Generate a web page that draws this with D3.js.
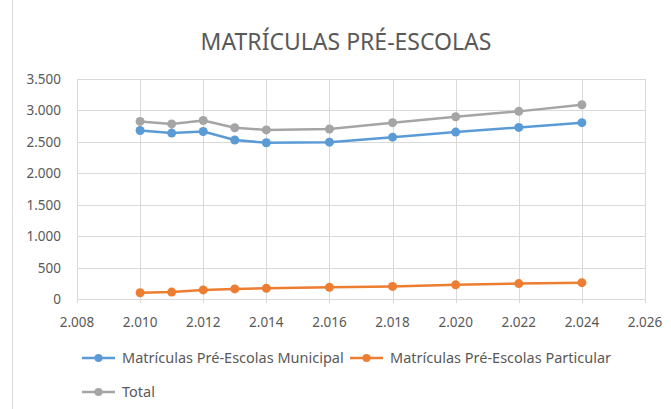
<!DOCTYPE html>
<html>
<head>
<meta charset="utf-8">
<script src="https://cdn.jsdelivr.net/npm/d3@7"></script>
<style>
  body { margin: 0; background: #fff; }
  text { font-family: "Noto Sans", sans-serif; fill: #595959; }
</style>
</head>
<body>
<div id="chart"></div>
<script>
// data
const years = [2010, 2011, 2012, 2013, 2014, 2016, 2018, 2020, 2022, 2024];
const municipal = [2680, 2640, 2665, 2530, 2485, 2495, 2575, 2655, 2730, 2805];
const particular = [100, 110, 145, 160, 170, 185, 200, 225, 245, 260];
const total = [2825, 2785, 2840, 2725, 2690, 2705, 2805, 2900, 2985, 3090];
const seriesNames = ["Matrículas Pré-Escolas Municipal", "Matrículas Pré-Escolas Particular", "Total"];
const seriesColors = ["#5b9bd5", "#ed7d31", "#a5a5a5"];
const xTicks = [2008, 2010, 2012, 2014, 2016, 2018, 2020, 2022, 2024, 2026];
const yTicks = [0, 500, 1000, 1500, 2000, 2500, 3000, 3500];

const width = 671, height = 409;
const margin = { top: 79, right: 26, bottom: 110, left: 77 };

const svg = d3.select("#chart").append("svg")
  .attr("width", width)
  .attr("height", height);

// chart border (only left edge visible in the picture)
svg.append("line")
  .attr("x1", 12.5).attr("x2", 12.5)
  .attr("y1", 0).attr("y2", height)
  .attr("stroke", "#d9d9d9");

const x = d3.scaleLinear().domain([2008, 2026]).range([margin.left, width - margin.right]);
const y = d3.scaleLinear().domain([0, 3500]).range([height - margin.bottom, margin.top]);

// title
svg.append("text")
  .attr("x", 346).attr("y", 50)
  .attr("text-anchor", "middle")
  .style("font-size", "23px")
  .text("MATRÍCULAS PRÉ-ESCOLAS");

// grid
const grid = svg.append("g").attr("stroke", "#d9d9d9").attr("stroke-width", 1);
grid.selectAll(".h").data(yTicks).join("line")
  .attr("x1", x(2008)).attr("x2", x(2026))
  .attr("y1", d => Math.round(y(d)) + 0.5).attr("y2", d => Math.round(y(d)) + 0.5);
grid.selectAll(".v").data(xTicks).join("line")
  .attr("x1", d => Math.round(x(d)) + 0.5).attr("x2", d => Math.round(x(d)) + 0.5)
  .attr("y1", y(3500)).attr("y2", y(0) + 4);

const fmt = d => d3.format(",")(d).replace(/,/g, ".");

// axes labels
svg.append("g").selectAll("text").data(yTicks).join("text")
  .attr("x", x(2008) - 16).attr("y", d => y(d) + 5)
  .attr("text-anchor", "end")
  .style("font-size", "13.5px")
  .text(fmt);

svg.append("g").selectAll("text").data(xTicks).join("text")
  .attr("x", d => x(d)).attr("y", y(0) + 28)
  .attr("text-anchor", "middle")
  .style("font-size", "13.5px")
  .text(fmt);

// series
const allSeries = [municipal, particular, total];
const line = d3.line().x((d, i) => x(years[i])).y(d => y(d));

// draw gray (total) under, then orange, then blue
[2, 1, 0].forEach(s => {
  const g = svg.append("g");
  g.append("path")
    .datum(allSeries[s])
    .attr("d", line)
    .attr("fill", "none")
    .attr("stroke", seriesColors[s])
    .attr("stroke-width", 2.5)
    .attr("stroke-linejoin", "round");
  g.selectAll("circle").data(allSeries[s]).join("circle")
    .attr("cx", (d, i) => x(years[i]))
    .attr("cy", d => y(d))
    .attr("r", 4.5)
    .attr("fill", seriesColors[s]);
});

// legend
const legendPos = [[82, 358], [350, 358], [82, 392]];
legendPos.forEach((p, i) => {
  const g = svg.append("g").attr("transform", `translate(${p[0]},${p[1]})`);
  g.append("line").attr("x1", 0).attr("x2", 33).attr("y1", 0).attr("y2", 0)
    .attr("stroke", seriesColors[i]).attr("stroke-width", 2.5);
  g.append("circle").attr("cx", 16.5).attr("cy", 0).attr("r", 4).attr("fill", seriesColors[i]);
  g.append("text").attr("x", 40).attr("y", 5)
    .style("font-size", "14.5px")
    .text(seriesNames[i]);
});
</script>
</body>
</html>
